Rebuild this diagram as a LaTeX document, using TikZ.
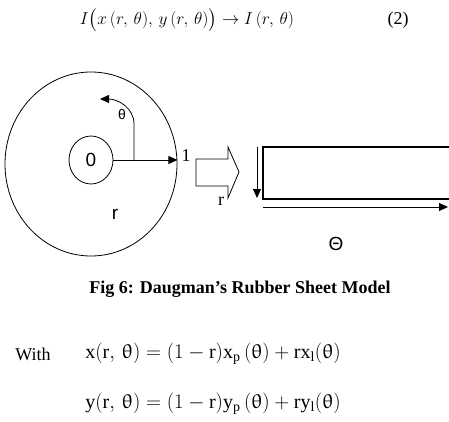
\documentclass[tikz,border=0pt]{standalone}
\usepackage{amsmath,amssymb}
\usepackage{upgreek}
\usepackage{fontspec}
\setmainfont{Liberation Serif}
\setsansfont{Liberation Sans}
\usetikzlibrary{arrows.meta,positioning,calc,shapes.geometric}

\tikzset{
  lbl/.style={inner sep=0pt, font=\fontsize{19}{22}\selectfont\sffamily},
  serif lbl/.style={inner sep=0pt, font=\fontsize{18}{21}\selectfont},
  eqn/.style={inner sep=0pt, font=\fontsize{20}{24}\selectfont},
}

\begin{document}
\begin{tikzpicture}[x=1pt, y=-1pt, line width=0.8pt,
    >={Triangle[length=9pt,width=8pt]}]
  \useasboundingbox (0,0) rectangle (449,422);

  % mapping formula
  \node (map) [eqn, font=\fontsize{19}{22}\selectfont] at (187,20) {$I\big(x\,(r,\,\theta),\,y\,(r,\,\theta)\big)\rightarrow I\,(r,\,\theta)$};
  \node (num) [serif lbl] at (398,20) {(2)};

  % iris and pupil
  \node (iris) [ellipse, draw, minimum width=172pt, minimum height=184pt, inner sep=0pt] at (91,164) {};
  \node (pupil) [ellipse, draw, minimum width=44pt, minimum height=48pt, inner sep=0pt, lbl] at (91,160) {0};
  \node (rin) [lbl] at (115,214) {r};
  \node (one) [serif lbl] at (186,156) {1};

  \draw[->] (pupil.east) -- (iris.east |- pupil.east);
  \coordinate (tstart) at (134,160);
  \coordinate (tend) at (100,99);
  \draw[->] (tstart) -- ++(0,-36) .. controls ++(0,-16) and (118,99) .. (tend);
  \node (th) [lbl, font=\fontsize{14}{16}\selectfont\sffamily] at (122,115) {θ};

  % block arrow
  \draw (196,159) -- (228,159) -- (228,147) -- (239,172) -- (228,198)
    -- (228,186) -- (196,186) -- cycle;
  \node (rmid) [serif lbl] at (221,201) {r};

  % unwrapped sheet
  \draw[line width=1.1pt] (452,147) -- (263,147) -- (263,199) -- (452,199);
  \coordinate (rtop) at (257,147);
  \coordinate (rbot) at (257,198);
  \draw[->] (rtop) -- (rbot);
  \coordinate (tleft) at (263,207);
  \coordinate (tright) at (448,207);
  \draw[->] (tleft) -- (tright);
  \node (Th) [lbl] at (336,244) {Θ};

  % caption
  \node (cap) [inner sep=0pt, font=\fontsize{18}{21}\selectfont\bfseries] at (240,289) {Fig 6: Daugman’s Rubber Sheet Model};

  % coordinates
  \node (with) [serif lbl] at (33,354) {With};
  \node (xeq) [eqn, anchor=west] at (85,354) {$\mathrm{x}(\mathrm{r},\,\uptheta) = (1-\mathrm{r})\mathrm{x}_{\mathrm{p}}\,(\uptheta) + \mathrm{r}\mathrm{x}_{\mathrm{l}}(\uptheta)$};
  \node (yeq) [eqn, anchor=west] at (85,404) {$\mathrm{y}(\mathrm{r},\,\uptheta) = (1-\mathrm{r})\mathrm{y}_{\mathrm{p}}\,(\uptheta) + \mathrm{r}\mathrm{y}_{\mathrm{l}}(\uptheta)$};
\end{tikzpicture}
\end{document}
